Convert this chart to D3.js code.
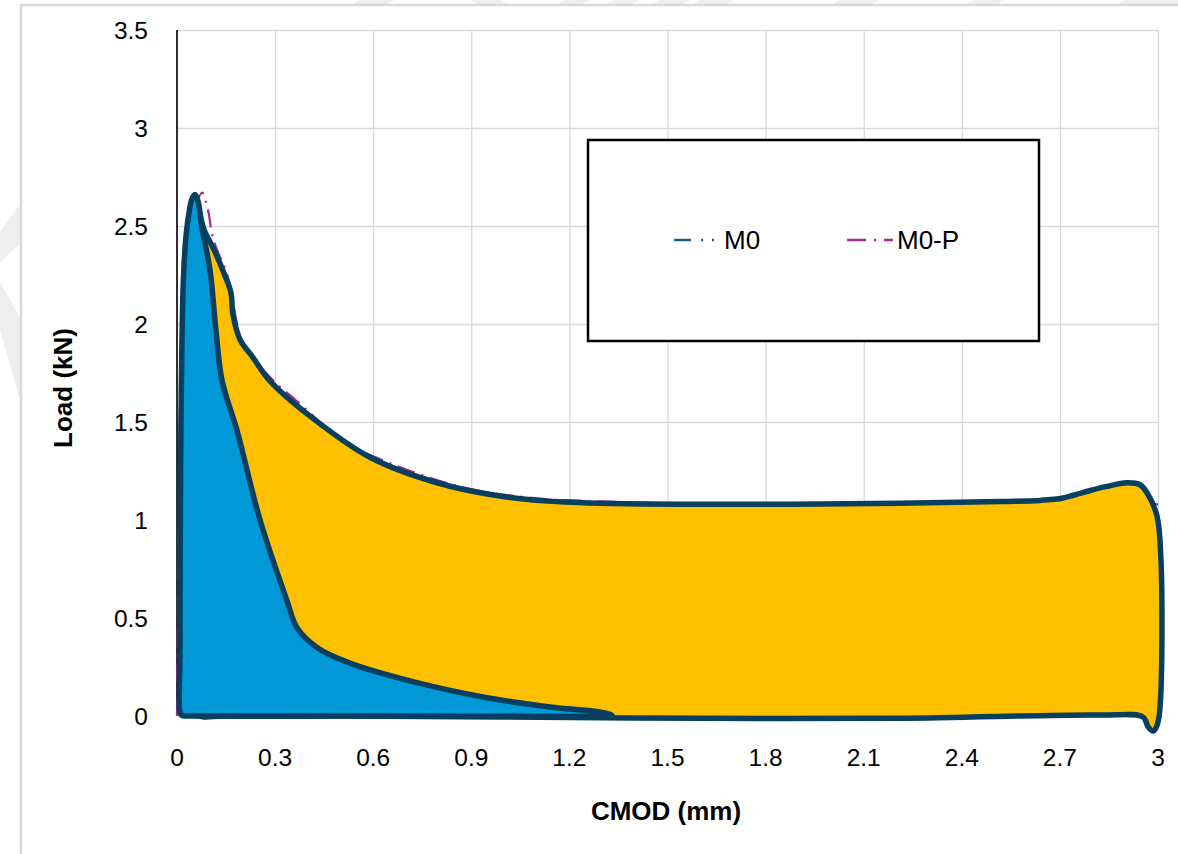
<!DOCTYPE html>
<html>
<head>
<meta charset="utf-8">
<script src="https://cdn.jsdelivr.net/npm/d3@7"></script>
<style>
  html, body { margin: 0; padding: 0; background: #ffffff; }
  svg { display: block; }
</style>
</head>
<body>
<svg id="chart" width="1178" height="854"></svg>
<script>
// ---------- data ----------
const xTicks = [0, 0.3, 0.6, 0.9, 1.2, 1.5, 1.8, 2.1, 2.4, 2.7, 3];
const xTickLabels = ["0", "0.3", "0.6", "0.9", "1.2", "1.5", "1.8", "2.1", "2.4", "2.7", "3"];
const yTicks = [0, 0.5, 1, 1.5, 2, 2.5, 3, 3.5];
const yTickLabels = ["0", "0.5", "1", "1.5", "2", "2.5", "3", "3.5"];
const seriesNames = ["M0", "M0-P"];

// M0 curve (CMOD mm, load kN)
const m0X = [0, 0.004, 0.010, 0.018, 0.034, 0.045, 0.055, 0.070, 0.083, 0.113, 0.147, 0.165, 0.171, 0.193, 0.232, 0.284, 0.407, 0.590, 0.795, 0.997, 1.202, 1.60, 2.21, 2.52, 2.70, 2.85, 2.99];
const m0Y = [0, 0.05, 0.60, 2.27, 2.53, 2.63, 2.66, 2.56, 2.48, 2.38, 2.245, 2.16, 2.05, 1.92, 1.83, 1.71, 1.53, 1.32, 1.19, 1.12, 1.09, 1.08, 1.085, 1.095, 1.10, 1.10, 1.08];

// M0-P curve
const m0pX = [0, 0.003, 0.010, 0.025, 0.050, 0.077, 0.095, 0.107, 0.122, 0.150, 0.171, 0.180, 0.202, 0.284, 0.385, 0.500, 0.600, 0.865, 1.10, 1.20, 1.60, 2.20, 2.70, 2.85, 3.00];
const m0pY = [0, 0.50, 1.50, 2.20, 2.55, 2.67, 2.58, 2.46, 2.38, 2.27, 2.12, 2.03, 1.90, 1.73, 1.58, 1.41, 1.325, 1.17, 1.11, 1.10, 1.085, 1.09, 1.10, 1.10, 1.08];

// highlighted region: total (yellow) outline
const yellowX = [0.055, 0.070, 0.083, 0.113, 0.147, 0.165, 0.171, 0.193, 0.232, 0.284, 0.407, 0.590, 0.795, 0.997, 1.202, 1.60, 2.21, 2.52, 2.64, 2.71, 2.77, 2.84, 2.905, 2.945, 2.966, 2.997, 3.009, 3.012, 3.009, 3.003, 2.994, 2.985, 2.970, 2.954, 2.823, 2.21, 1.60, 0.99, 0.50, 0.15, 0.06, 0.05, 0.05, 0.05, 0.053];
const yellowY = [2.66, 2.56, 2.48, 2.38, 2.245, 2.16, 2.05, 1.92, 1.83, 1.71, 1.53, 1.32, 1.19, 1.12, 1.09, 1.08, 1.085, 1.095, 1.10, 1.112, 1.14, 1.17, 1.19, 1.18, 1.14, 1.02, 0.80, 0.49, 0.13, -0.005, -0.06, -0.077, -0.056, -0.005, 0.005, -0.012, -0.012, -0.005, 0, 0, 0.01, 0.20, 1.00, 2.00, 2.40];

// highlighted region: initial (blue) outline
const blueX = [0.009, 0.009, 0.010, 0.012, 0.015, 0.019, 0.026, 0.036, 0.046, 0.055, 0.064, 0.076, 0.101, 0.119, 0.138, 0.183, 0.254, 0.336, 0.367, 0.428, 0.529, 0.734, 0.936, 1.141, 1.300, 1.330, 1.200, 0.600, 0.100, 0.030, 0.015];
const blueY = [0.020, 0.300, 0.900, 1.500, 1.900, 2.200, 2.420, 2.560, 2.640, 2.660, 2.630, 2.495, 2.275, 1.970, 1.710, 1.460, 1.000, 0.590, 0.450, 0.350, 0.270, 0.170, 0.097, 0.046, 0.018, 0.004, -0.002, 0.000, 0.000, 0.000, 0.003];

// ---------- layout ----------
const W = 1178, H = 854;
const plot = { left: 177, right: 1158, top: 30, bottom: 716 };
const colors = {
  grid: "#d9d9d9",
  m0: "#156082",
  m0p: "#a02b93",
  yellow: "#ffc000",
  blue: "#0198d8",
  outline: "#083e5e"
};

const svg = d3.select("#chart");
const x = d3.scaleLinear().domain([0, 3]).range([plot.left, plot.right]);
const y = d3.scaleLinear().domain([0, 3.5]).range([plot.bottom, plot.top]);

// background watermark fragments (very faint)
const wm = svg.append("g").attr("fill", "#eeeeee");
[
  [[0, 232], [20, 204], [20, 244], [0, 262]],
  [[0, 282], [20, 318], [20, 400], [0, 330]],
  [[360, 0], [395, 0], [385, 5], [350, 5]],
  [[470, 0], [500, 0], [510, 5], [480, 5]],
  [[565, 0], [590, 0], [580, 5], [555, 5]],
  [[615, 0], [640, 0], [630, 5], [605, 5]],
  [[660, 0], [690, 0], [680, 5], [650, 5]],
  [[700, 0], [735, 0], [725, 5], [690, 5]],
  [[840, 0], [880, 0], [870, 5], [830, 5]],
  [[975, 0], [1005, 0], [995, 5], [965, 5]],
  [[1125, 0], [1178, 0], [1178, 5], [1115, 5]]
].forEach(p => wm.append("polygon").attr("points", p.map(d => d.join(",")).join(" ")));

// outer frame
svg.append("path")
  .attr("d", `M21,${H} L21,5 L${W},5`)
  .attr("fill", "none").attr("stroke", "#d9d9d9").attr("stroke-width", 2.5);

// gridlines via axes
const gx = svg.append("g")
  .attr("transform", `translate(0,${plot.top})`)
  .call(d3.axisBottom(x).tickValues(xTicks).tickSize(plot.bottom - plot.top).tickFormat(""));
gx.select(".domain").remove();
gx.selectAll("line").attr("stroke", colors.grid).attr("stroke-width", 1.3);

const gy = svg.append("g")
  .attr("transform", `translate(${plot.left},0)`)
  .call(d3.axisRight(y).tickValues(yTicks).tickSize(plot.right - plot.left).tickFormat(""));
gy.select(".domain").remove();
gy.selectAll("line").attr("stroke", colors.grid).attr("stroke-width", 1.3);

// y axis line
svg.append("line")
  .attr("x1", x(0)).attr("x2", x(0)).attr("y1", y(3.5)).attr("y2", y(0))
  .attr("stroke", "#000").attr("stroke-width", 1.6);

// tick labels
const fontTick = "'Liberation Sans', Arial, sans-serif";
svg.append("g").selectAll("text").data(xTicks).join("text")
  .attr("x", d => x(d)).attr("y", 766)
  .attr("text-anchor", "middle")
  .attr("font-family", fontTick).attr("font-size", 24.5).attr("fill", "#000")
  .text((d, i) => xTickLabels[i]);

svg.append("g").selectAll("text").data(yTicks).join("text")
  .attr("x", 148).attr("y", d => y(d) + 8.5)
  .attr("text-anchor", "end")
  .attr("font-family", fontTick).attr("font-size", 24.5).attr("fill", "#000")
  .text((d, i) => yTickLabels[i]);

// axis titles
svg.append("text")
  .attr("x", 666).attr("y", 820)
  .attr("text-anchor", "middle")
  .attr("font-family", fontTick).attr("font-weight", "bold").attr("font-size", 26)
  .attr("fill", "#000")
  .text("CMOD (mm)");

svg.append("text")
  .attr("transform", `translate(72,388) rotate(-90)`)
  .attr("text-anchor", "middle")
  .attr("font-family", fontTick).attr("font-weight", "bold").attr("font-size", 26)
  .attr("fill", "#000")
  .text("Load (kN)");

// series lines
const lineGen = d3.line().x(d => x(d[0])).y(d => y(d[1])).curve(d3.curveCatmullRom.alpha(0.5));
const m0Pts = m0X.map((v, i) => [v, m0Y[i]]);
const m0pPts = m0pX.map((v, i) => [v, m0pY[i]]);

svg.append("path").attr("d", lineGen(m0Pts))
  .attr("fill", "none").attr("stroke", colors.m0).attr("stroke-width", 2.2)
  .attr("stroke-dasharray", "17,7,2,7,2,7");
svg.append("path").attr("d", lineGen(m0pPts))
  .attr("fill", "none").attr("stroke", colors.m0p).attr("stroke-width", 2.2)
  .attr("stroke-dasharray", "18,7,2,7");

// highlighted regions
const shapeGen = d3.line().x(d => x(d[0])).y(d => y(d[1])).curve(d3.curveCatmullRomClosed.alpha(0.5));
const yellowPts = yellowX.map((v, i) => [v, yellowY[i]]);
const bluePts = blueX.map((v, i) => [v, blueY[i]]);

svg.append("path").attr("d", shapeGen(yellowPts))
  .attr("fill", colors.yellow).attr("stroke", colors.outline)
  .attr("stroke-width", 5.5).attr("stroke-linejoin", "round");
svg.append("path").attr("d", shapeGen(bluePts))
  .attr("fill", colors.blue).attr("stroke", colors.outline)
  .attr("stroke-width", 5.5).attr("stroke-linejoin", "round");

// legend
const lg = svg.append("g");
lg.append("rect")
  .attr("x", 588).attr("y", 140).attr("width", 451).attr("height", 201)
  .attr("fill", "#fff").attr("stroke", "#000").attr("stroke-width", 2.5);

lg.append("line").attr("x1", 674).attr("x2", 716).attr("y1", 240).attr("y2", 240)
  .attr("stroke", colors.m0).attr("stroke-width", 2.5).attr("stroke-dasharray", "17,10,2,9,2,9");
lg.append("text").attr("x", 724).attr("y", 249)
  .attr("font-family", fontTick).attr("font-size", 26).attr("fill", "#000").text(seriesNames[0]);

lg.append("line").attr("x1", 847).attr("x2", 893).attr("y1", 240).attr("y2", 240)
  .attr("stroke", colors.m0p).attr("stroke-width", 2.5).attr("stroke-dasharray", "19,8,2,8");
lg.append("text").attr("x", 897).attr("y", 249)
  .attr("font-family", fontTick).attr("font-size", 26).attr("fill", "#000").text(seriesNames[1]);
</script>
</body>
</html>
